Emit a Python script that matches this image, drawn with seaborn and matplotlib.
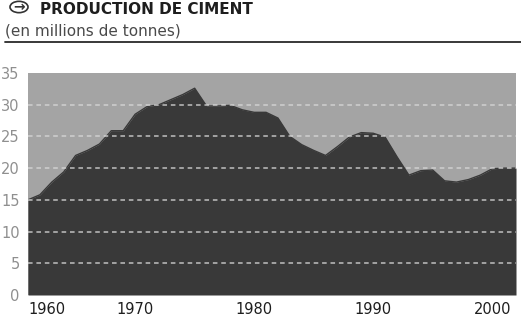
import matplotlib
matplotlib.use("Agg")
import matplotlib.pyplot as plt
import seaborn as sns
import pandas as pd
from matplotlib.patches import Circle

years = list(range(1961, 2003))
production = [15.0, 15.8, 17.8, 19.4, 22.0, 22.8, 23.8, 25.9, 25.9, 28.5,
              29.7, 30.0, 30.8, 31.6, 32.6, 29.8, 29.8, 29.9, 29.2, 28.8,
              28.8, 27.9, 25.0, 23.7, 22.8, 22.0, 23.4, 24.9, 25.6, 25.5,
              24.9, 21.8, 18.9, 19.6, 19.7, 18.0, 17.8, 18.2, 18.9, 19.9,
              20.0, 20.0]
x_tick_pos = [1961, 1970, 1980, 1990, 2000]
x_tick_labels = ["1960", "1970", "1980", "1990", "2000"]
y_ticks = [0, 5, 10, 15, 20, 25, 30, 35]

title = "PRODUCTION DE CIMENT"
subtitle = "(en millions de tonnes)"

df = pd.DataFrame({"year": years, "production": production})

sns.set_theme(style="white")
plt.rcParams["font.family"] = ["DejaVu Sans"]

fig = plt.figure(figsize=(5.21, 3.28), dpi=100)
ax = fig.add_axes([28 / 521, 1 - 295 / 328, (516 - 28) / 521, (295 - 73) / 328])

bg = "#a4a4a4"
dark = "#393939"
ax.set_facecolor(bg)
ax.fill_between(df["year"], df["production"], 0, color=dark, lw=0, zorder=2)
sns.lineplot(data=df, x="year", y="production", ax=ax, color=dark, lw=1, zorder=3)

for yv in y_ticks[1:-1]:
    ax.axhline(yv, color="#d8d8d8", lw=1.1, ls=(0, (3, 2.5)), zorder=4, alpha=0.85)

ax.set_xlim(1961, 2002)
ax.set_ylim(0, 35)
ax.set_xticks(x_tick_pos)
ax.set_xticklabels(x_tick_labels)
ax.set_yticks(y_ticks)
ax.set_xlabel("")
ax.set_ylabel("")
for s in ax.spines.values():
    s.set_visible(False)
ax.tick_params(axis="x", direction="in", length=3, color="#cfcfcf", width=1,
               labelsize=10.5, labelcolor="#1e1e1e", pad=5)
ax.tick_params(axis="y", length=0, labelsize=10.5, labelcolor="#8f8f8f", pad=6)
ax.get_xticklabels()[0].set_horizontalalignment("left")

# header
fig.text(40 / 521, 1 - 14 / 328, title, fontsize=11, fontweight="bold",
         color="#1e1e1e", va="baseline", ha="left")
circ = Circle((19 / 521, 1 - 7 / 328), 9 / 521, transform=fig.transFigure,
              fill=False, edgecolor="#333333", lw=1.2)
fig.patches.append(circ)
fig.text(19 / 521, 1 - 7 / 328, "→", fontsize=10, fontweight="bold",
         color="#333333", va="center", ha="center")
fig.text(5 / 521, 1 - 31 / 328, subtitle, fontsize=11, color="#4a4a4a",
         va="center", ha="left")
fig.add_artist(plt.Line2D([5 / 521, 1], [1 - 42 / 328, 1 - 42 / 328],
                          transform=fig.transFigure, color="#2a2a2a", lw=1.3))

fig.savefig("out.png", dpi=100, facecolor="white")
